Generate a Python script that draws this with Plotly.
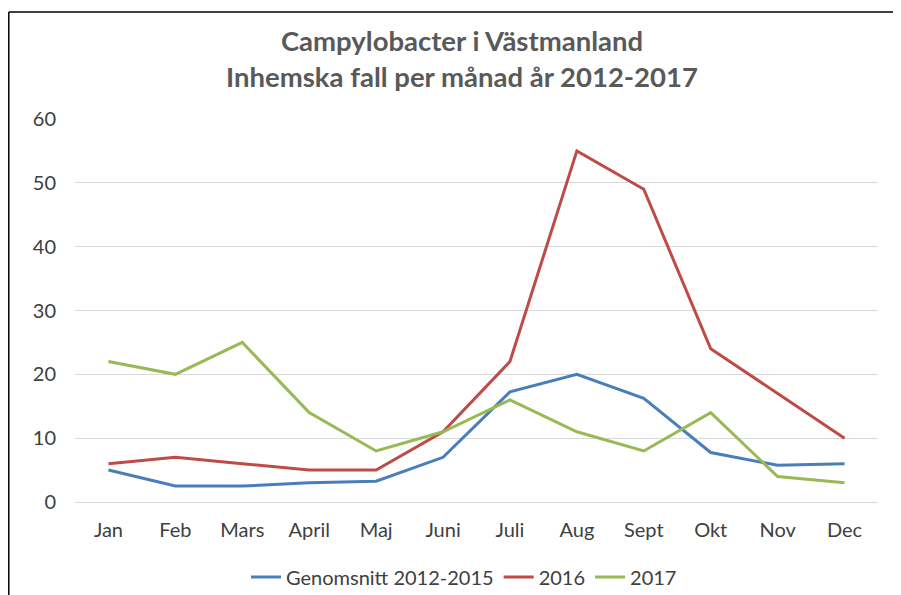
import plotly.graph_objects as go

months = ["Jan", "Feb", "Mars", "April", "Maj", "Juni", "Juli", "Aug", "Sept", "Okt", "Nov", "Dec"]
avg_2012_2015 = [5, 2.5, 2.5, 3, 3.25, 7, 17.25, 20, 16.25, 7.75, 5.75, 6]
y2016 = [6, 7, 6, 5, 5, 11, 22, 55, 49, 24, 17, 10]
y2017 = [22, 20, 25, 14, 8, 11, 16, 11, 8, 14, 4, 3]
y_ticks = [0, 10, 20, 30, 40, 50, 60]

FONT = "Lato, 'Open Sans', sans-serif"

# figure is placed at (8,8) by page body margin
W, H = 893, 587
L, R, T, B = 67, 23, 111, 93
PW, PH = W - L - R, H - T - B

fig = go.Figure()
fig.add_trace(go.Scatter(x=months, y=avg_2012_2015, mode="lines", name="Genomsnitt 2012-2015",
                         line=dict(color="#4A7EBB", width=3)))
fig.add_trace(go.Scatter(x=months, y=y2016, mode="lines", name="2016",
                         line=dict(color="#BE4B48", width=3)))
fig.add_trace(go.Scatter(x=months, y=y2017, mode="lines", name="2017",
                         line=dict(color="#98B954", width=3)))

fig.update_layout(
    width=W, height=H,
    paper_bgcolor="white", plot_bgcolor="white",
    margin=dict(l=L, r=R, t=T, b=B, autoexpand=False),
    font=dict(family=FONT, size=20, color="#404040"),
    title=dict(text="<b>Campylobacter i Västmanland<br>Inhemska fall per månad år 2012-2017</b>",
               x=(462 - 8) / W, xanchor="center", y=0.926, yanchor="middle",
               font=dict(family=FONT, size=27.5, color="#595959")),
    showlegend=True,
    legend=dict(orientation="h", x=(464 - 8 - L) / PW, xanchor="center", y=-75 / PH, yanchor="middle",
                font=dict(size=20, color="#404040"), itemwidth=30),
    xaxis=dict(showgrid=False, showline=False, zeroline=False, ticks="",
               range=[-0.5, 11.5], ticklabelstandoff=14),
    yaxis=dict(range=[0, 60], tickvals=y_ticks, showgrid=True, gridcolor="#D9D9D9", gridwidth=1,
               zeroline=True, zerolinecolor="#D9D9D9", zerolinewidth=1, showline=False, ticks="",
               ticklabelstandoff=18),
    shapes=[
        dict(type="line", xref="paper", yref="paper", x0=(0.8 - L) / PW, x1=(W - L) / PW,
             y0=(PH + T - 4) / PH, y1=(PH + T - 4) / PH, line=dict(color="black", width=1.5)),
        dict(type="line", xref="paper", yref="paper", x0=(0.8 - L) / PW, x1=(0.8 - L) / PW,
             y0=(PH + T - 4) / PH, y1=-(B + 20) / PH, line=dict(color="black", width=1.5)),
    ],
)

fig.write_html("out.html")
